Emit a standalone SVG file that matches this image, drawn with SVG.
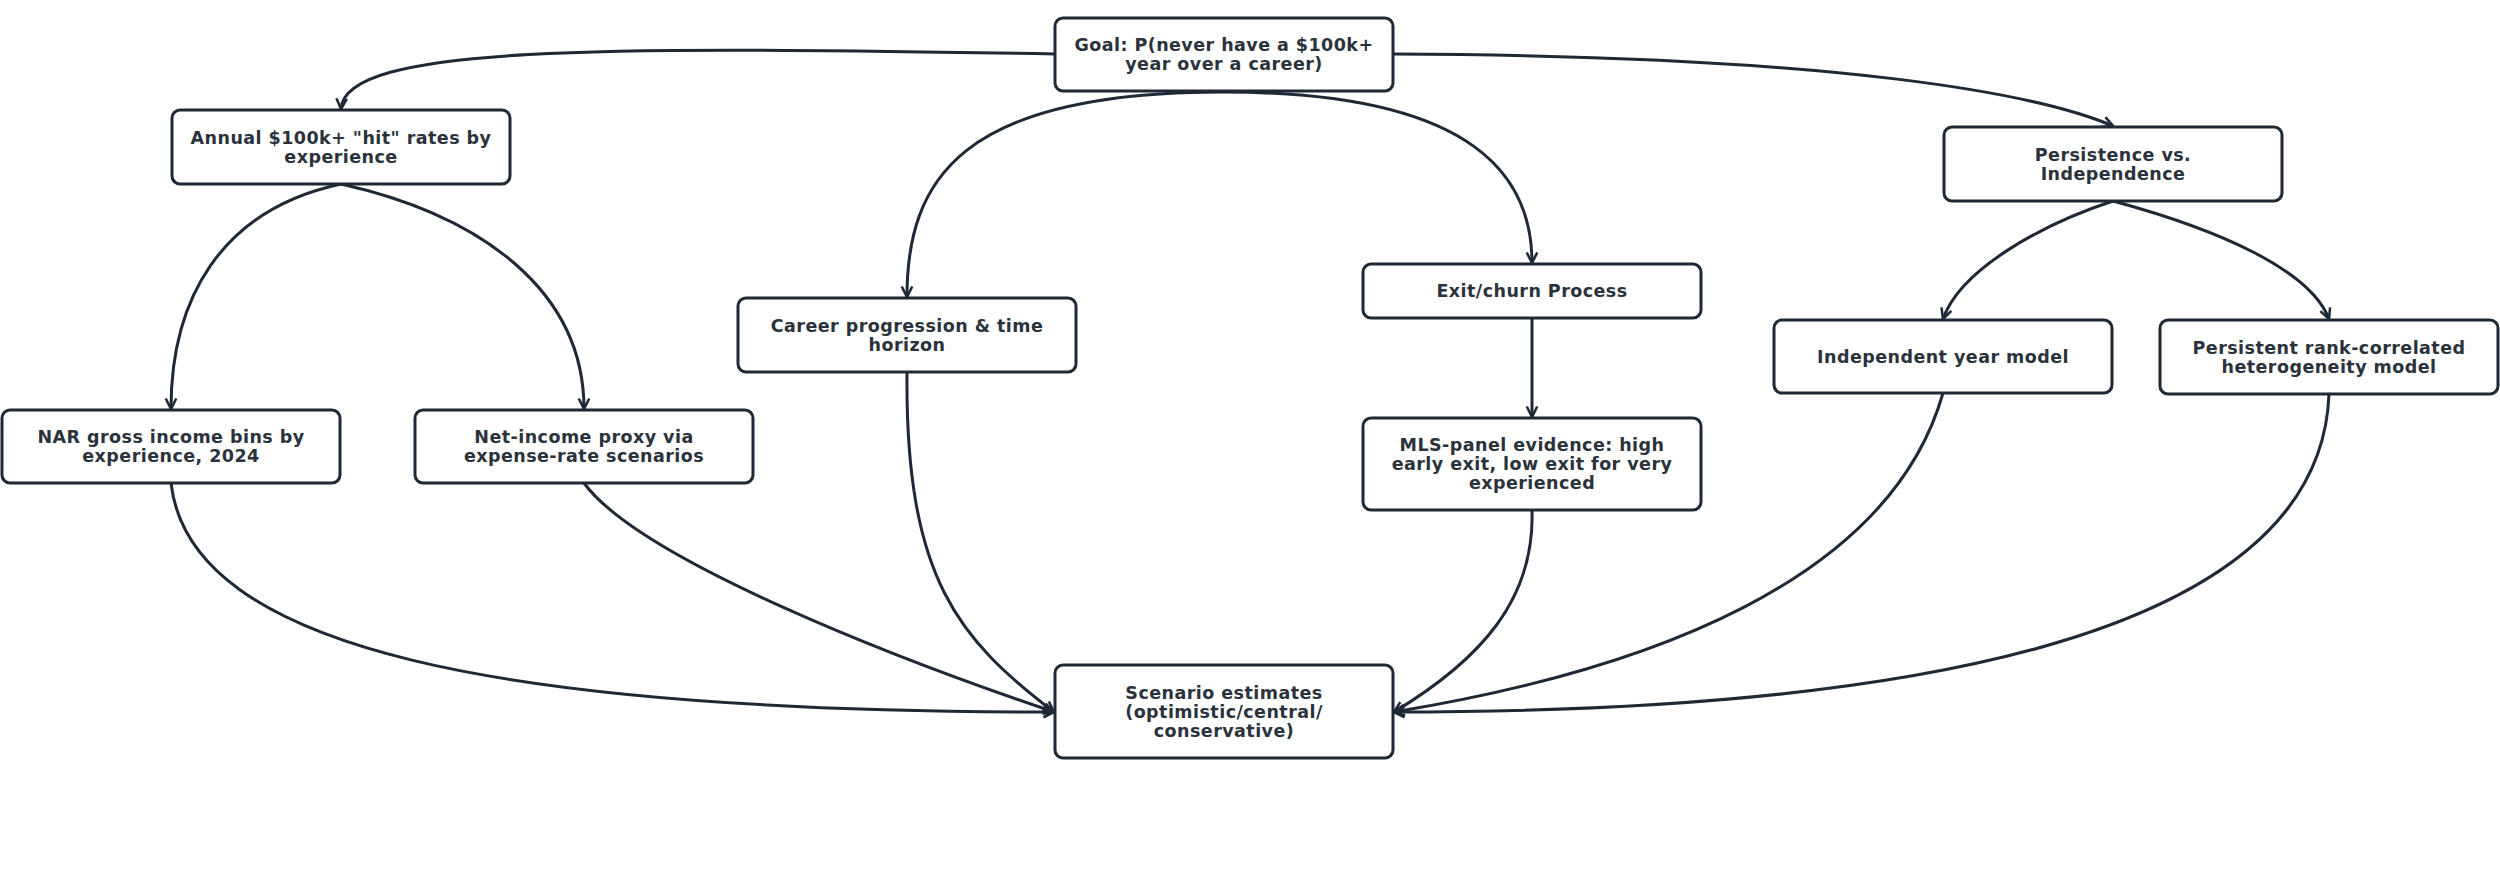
<svg xmlns="http://www.w3.org/2000/svg" width="2500" height="876" viewBox="0 0 2500 876">
<defs>
<style>
.box{fill:#ffffff;stroke:#1f2935;stroke-width:3}
.lbl{font-family:"DejaVu Sans","Open Sans",sans-serif;font-weight:700;font-size:17.5px;fill:#2a323c;text-anchor:middle;dominant-baseline:central;letter-spacing:0.45px}
.edge{fill:none;stroke:#1f2935;stroke-width:3;marker-end:url(#arr)}
</style>
<marker id="arr" viewBox="0 0 12 12" refX="10" refY="6" markerWidth="14" markerHeight="14" markerUnits="userSpaceOnUse" orient="auto">
<path d="M1,1.5 L10,6 L1,10.5" fill="none" stroke="#1f2935" stroke-width="2.2" stroke-linejoin="miter"/>
</marker>
</defs>
<rect width="2500" height="876" fill="#ffffff"/>
<g id="connectors">
<path class="edge" d="M1055,54 C600,46 345,45 341,109"/>
<path class="edge" d="M1393,54 C1850,56 2040,95 2113,126"/>
<path class="edge" d="M1223,92 C960,92 907,180 907,297"/>
<path class="edge" d="M1223,92 C1480,92 1532,180 1532,263"/>
<path class="edge" d="M341,184 C220,210 171,300 171,409"/>
<path class="edge" d="M341,184 C480,215 584,290 584,409"/>
<path class="edge" d="M2113,201 C2040,225 1960,270 1943,319"/>
<path class="edge" d="M2113,201 C2220,230 2310,270 2329,319"/>
<path class="edge" d="M1532,318 L1532,417"/>
<path class="edge" d="M171,483 C190,650 500,712 1054,712"/>
<path class="edge" d="M584,483 C640,560 900,660 1054,712"/>
<path class="edge" d="M907,372 C905,580 960,640 1054,712"/>
<path class="edge" d="M1532,510 C1535,600 1480,660 1394,712"/>
<path class="edge" d="M1943,393 C1890,580 1650,670 1394,712"/>
<path class="edge" d="M2329,394 C2320,640 1900,712 1394,712"/>
</g>
<g id="goal">
<rect class="box" x="1055" y="18" width="338" height="73" rx="8"/>
<text class="lbl" x="1224" y="45">Goal: P(never have a $100k+</text>
<text class="lbl" x="1224" y="64">year over a career)</text>
</g>
<g id="annual">
<rect class="box" x="172" y="110" width="338" height="74" rx="8"/>
<text class="lbl" x="341" y="138">Annual $100k+ "hit" rates by</text>
<text class="lbl" x="341" y="157">experience</text>
</g>
<g id="nar">
<rect class="box" x="2" y="410" width="338" height="73" rx="8"/>
<text class="lbl" x="171" y="437">NAR gross income bins by</text>
<text class="lbl" x="171" y="456">experience, 2024</text>
</g>
<g id="net">
<rect class="box" x="415" y="410" width="338" height="73" rx="8"/>
<text class="lbl" x="584" y="437">Net-income proxy via</text>
<text class="lbl" x="584" y="456">expense-rate scenarios</text>
</g>
<g id="career">
<rect class="box" x="738" y="298" width="338" height="74" rx="8"/>
<text class="lbl" x="907" y="325.5">Career progression &amp; time</text>
<text class="lbl" x="907" y="344.5">horizon</text>
</g>
<g id="exit">
<rect class="box" x="1363" y="264" width="338" height="54" rx="8"/>
<text class="lbl" x="1532" y="291">Exit/churn Process</text>
</g>
<g id="mls">
<rect class="box" x="1363" y="418" width="338" height="92" rx="8"/>
<text class="lbl" x="1532" y="445">MLS-panel evidence: high</text>
<text class="lbl" x="1532" y="464">early exit, low exit for very</text>
<text class="lbl" x="1532" y="483">experienced</text>
</g>
<g id="persistence">
<rect class="box" x="1944" y="127" width="338" height="74" rx="8"/>
<text class="lbl" x="2113" y="154.5">Persistence vs.</text>
<text class="lbl" x="2113" y="173.5">Independence</text>
</g>
<g id="independent">
<rect class="box" x="1774" y="320" width="338" height="73" rx="8"/>
<text class="lbl" x="1943" y="356.5">Independent year model</text>
</g>
<g id="persistent">
<rect class="box" x="2160" y="320" width="338" height="74" rx="8"/>
<text class="lbl" x="2329" y="347.5">Persistent rank-correlated</text>
<text class="lbl" x="2329" y="366.5">heterogeneity model</text>
</g>
<g id="scenario">
<rect class="box" x="1055" y="665" width="338" height="93" rx="8"/>
<text class="lbl" x="1224" y="692.5">Scenario estimates</text>
<text class="lbl" x="1224" y="711.5">(optimistic/central/</text>
<text class="lbl" x="1224" y="730.5">conservative)</text>
</g>
</svg>
